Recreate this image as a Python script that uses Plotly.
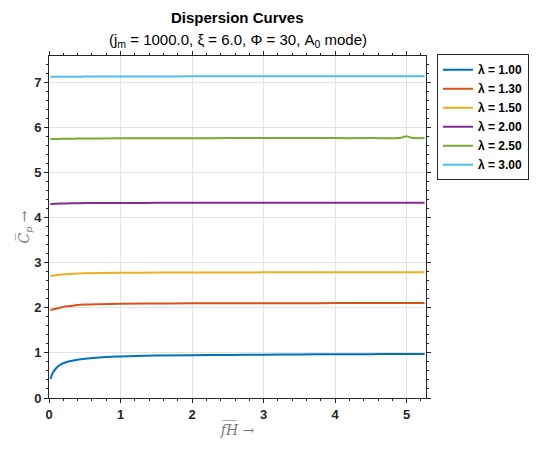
import plotly.graph_objects as go

# Normalised frequency-thickness samples
fh = [0.02, 0.05, 0.1, 0.15, 0.2, 0.3, 0.4, 0.5, 0.7, 1.0, 1.5, 2.0, 2.5,
      3.0, 3.5, 4.0, 4.5, 4.9, 4.95, 5.0, 5.05, 5.1, 5.25]

# Phase velocity per lambda
cp_100 = [0.42, 0.55, 0.66, 0.73, 0.77, 0.82, 0.85, 0.87, 0.90, 0.92, 0.94, 0.95, 0.955,
          0.96, 0.965, 0.97, 0.972, 0.974, 0.974, 0.975, 0.975, 0.975, 0.976]
cp_130 = [1.95, 1.96, 1.98, 2.00, 2.02, 2.04, 2.06, 2.07, 2.08, 2.09, 2.095, 2.10, 2.10,
          2.10, 2.10, 2.105, 2.105, 2.105, 2.105, 2.105, 2.105, 2.105, 2.105]
cp_150 = [2.70, 2.71, 2.72, 2.73, 2.74, 2.75, 2.76, 2.765, 2.77, 2.775, 2.78, 2.78, 2.78,
          2.785, 2.785, 2.785, 2.785, 2.785, 2.785, 2.785, 2.785, 2.785, 2.785]
cp_200 = [4.30, 4.30, 4.305, 4.31, 4.31, 4.315, 4.315, 4.32, 4.32, 4.32, 4.325, 4.325, 4.325,
          4.325, 4.33, 4.33, 4.33, 4.33, 4.33, 4.33, 4.33, 4.33, 4.33]
cp_250 = [5.74, 5.74, 5.74, 5.745, 5.745, 5.745, 5.75, 5.75, 5.75, 5.755, 5.755, 5.755, 5.76,
          5.76, 5.76, 5.76, 5.76, 5.765, 5.78, 5.80, 5.775, 5.76, 5.76]
cp_300 = [7.12, 7.12, 7.12, 7.12, 7.12, 7.12, 7.12, 7.125, 7.125, 7.125, 7.125, 7.13, 7.13,
          7.13, 7.13, 7.13, 7.13, 7.13, 7.13, 7.13, 7.13, 7.13, 7.13]

series = [
    ("λ = 1.00", cp_100, "#0072BD"),
    ("λ = 1.30", cp_130, "#D95319"),
    ("λ = 1.50", cp_150, "#EDB120"),
    ("λ = 2.00", cp_200, "#7E2F8E"),
    ("λ = 2.50", cp_250, "#77AC30"),
    ("λ = 3.00", cp_300, "#4DBEEE"),
]

fig = go.Figure()
for name, cp, color in series:
    fig.add_trace(go.Scatter(x=fh, y=cp, mode="lines", name=name,
                             line=dict(color=color, width=2, shape="spline")))

axis_common = dict(
    showline=True, linecolor="#262626", linewidth=1, mirror="allticks",
    ticks="outside", ticklen=4, tickcolor="#262626",
    showgrid=True, gridcolor="#E3E3E3", gridwidth=1, zeroline=False,
    tickfont=dict(family="Liberation Sans, Arial", size=13, color="#262626", weight="bold"),
    minor=dict(ticks="outside", ticklen=2, tickcolor="#262626", dtick=0.2, showgrid=False),
)

title_font = dict(family="Liberation Sans, Arial", size=15, color="black")

fig.update_layout(
    width=537, height=449,
    margin=dict(l=49, r=111, t=56, b=51, autoexpand=False),
    paper_bgcolor="white", plot_bgcolor="white",
    xaxis=dict(range=[0, 5.27], tickvals=[0, 1, 2, 3, 4, 5],
               title=dict(text="<i>f̅H̅</i> →", standoff=4,
                          font=dict(family="DejaVu Serif", size=14, color="#7a7a7a")),
               **axis_common),
    yaxis=dict(range=[0, 7.58], tickvals=[0, 1, 2, 3, 4, 5, 6, 7],
               title=dict(text="<i>C̅<sub>p</sub></i> →", standoff=0,
                          font=dict(family="DejaVu Serif", size=14, color="#7a7a7a")),
               **axis_common),
    legend=dict(
        x=1.029, xanchor="left", y=1.005, yanchor="top",
        bordercolor="#262626", borderwidth=1, bgcolor="white",
        font=dict(family="Liberation Sans, Arial", size=12, color="black", weight="bold"),
        tracegroupgap=0, itemwidth=30,
    ),
    showlegend=True,
    annotations=[
        dict(text="<b>Dispersion Curves</b>", xref="paper", yref="paper",
             x=0.5, y=1.0, yshift=39, xanchor="center", yanchor="middle",
             showarrow=False, font=title_font),
        dict(text="(j<sub>m</sub> = 1000.0, ξ = 6.0, Φ = 30, A<sub>0</sub> mode)",
             xref="paper", yref="paper", x=0.5, y=1.0, yshift=16,
             xanchor="center", yanchor="middle", showarrow=False, font=title_font),
    ],
)

fig.write_html("out.html")
